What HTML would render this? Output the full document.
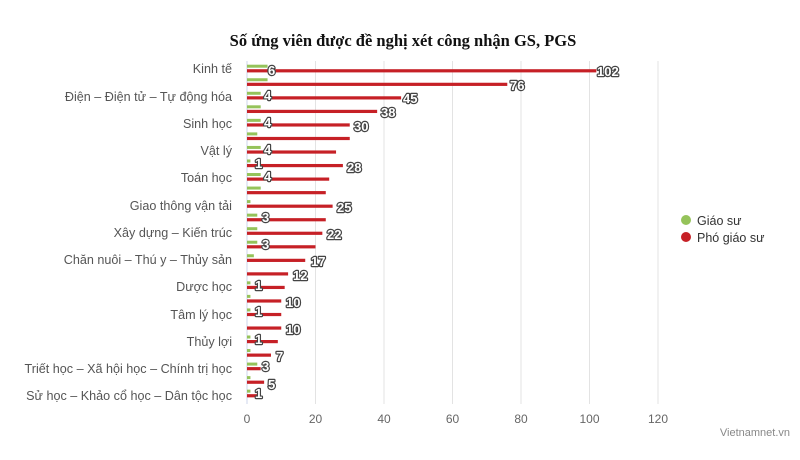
<!DOCTYPE html>
<html><head><meta charset="utf-8"><style>
body{margin:0;background:#fff;}
svg{display:block;font-family:"Liberation Sans","DejaVu Sans",sans-serif;}
.cat{font-size:12.6px;fill:#555;text-anchor:end;}
.lbl{font-size:13px;font-weight:bold;fill:#fff;stroke:#444;stroke-width:2.4px;paint-order:stroke;stroke-linejoin:round;}
.tick{font-size:12px;fill:#666;text-anchor:middle;}
</style></head><body>
<svg width="800" height="460" viewBox="0 0 800 460" xmlns="http://www.w3.org/2000/svg">
<text x="403" y="46" text-anchor="middle" style="font-family:'Liberation Serif',serif;font-weight:bold;font-size:16.5px;fill:#111">Số ứng viên được đề nghị xét công nhận GS, PGS</text>
<g stroke="#e3e3e3" stroke-width="1">
<line x1="315.5" y1="61" x2="315.5" y2="404"/><line x1="384" y1="61" x2="384" y2="404"/><line x1="452.5" y1="61" x2="452.5" y2="404"/><line x1="521" y1="61" x2="521" y2="404"/><line x1="589.5" y1="61" x2="589.5" y2="404"/><line x1="658" y1="61" x2="658" y2="404"/>
</g>
<line x1="247" y1="61" x2="247" y2="404" stroke="#ccd6eb" stroke-width="1"/>
<g id="bars"></g>
<g class="tick">
<text x="247" y="423">0</text><text x="315.5" y="423">20</text><text x="384" y="423">40</text><text x="452.5" y="423">60</text><text x="521" y="423">80</text><text x="589.5" y="423">100</text><text x="658" y="423">120</text>
</g>
<g class="cat">
<text x="232" y="73">Kinh tế</text>
<text x="232" y="101">Điện – Điện tử – Tự động hóa</text>
<text x="232" y="128">Sinh học</text>
<text x="232" y="155">Vật lý</text>
<text x="232" y="182">Toán học</text>
<text x="232" y="210">Giao thông vận tải</text>
<text x="232" y="237">Xây dựng – Kiến trúc</text>
<text x="232" y="264">Chăn nuôi – Thú y – Thủy sản</text>
<text x="232" y="291">Dược học</text>
<text x="232" y="319">Tâm lý học</text>
<text x="232" y="346">Thủy lợi</text>
<text x="232" y="373">Triết học – Xã hội học – Chính trị học</text>
<text x="232" y="400">Sử học – Khảo cổ học – Dân tộc học</text>
</g>
<circle cx="686" cy="220" r="5" fill="#95c35a"/><text x="697" y="225" style="font-size:12.5px;fill:#333">Giáo sư</text>
<circle cx="686" cy="237" r="5" fill="#c62026"/><text x="697" y="242" style="font-size:12.5px;fill:#333">Phó giáo sư</text>
<text x="790" y="436" text-anchor="end" style="font-size:11px;fill:#888">Vietnamnet.vn</text>
<g id="labels" class="lbl">
<text x="268" y="75">6</text><text x="597" y="76">102</text><text x="510" y="90">76</text>
<text x="264" y="100">4</text><text x="403" y="103">45</text><text x="381" y="117">38</text>
<text x="264" y="127">4</text><text x="354" y="131">30</text>
<text x="264" y="154">4</text><text x="255" y="168">1</text><text x="347" y="172">28</text>
<text x="264" y="181">4</text><text x="337" y="212">25</text><text x="262" y="222">3</text>
<text x="327" y="239">22</text><text x="262" y="249">3</text><text x="311" y="266">17</text>
<text x="293" y="280">12</text><text x="255" y="290">1</text><text x="286" y="307">10</text>
<text x="255" y="316">1</text><text x="286" y="334">10</text><text x="255" y="344">1</text>
<text x="276" y="361">7</text><text x="262" y="371">3</text><text x="268" y="389">5</text><text x="255" y="398">1</text>
</g>
</svg>
<script>
var g=[6,6,4,4,4,3,4,1,4,4,1,3,3,3,2,0,1,1,1,0,1,1,3,1,1];
var r=[102,76,45,38,30,30,26,28,24,23,25,23,22,20,17,12,11,10,10,10,9,7,4,5,3];
var s=3.425,h='';
for(var i=0;i<25;i++){var y=70.7+i*13.54;
if(g[i]>0)h+='<rect x="247" y="'+(y-6)+'" width="'+(g[i]*s)+'" height="3" fill="#95c35a"/>';
h+='<rect x="247" y="'+(y-1.5)+'" width="'+(r[i]*s)+'" height="3.2" fill="#c62026"/>';}
document.getElementById('bars').innerHTML=h;
</script>
</body></html>
